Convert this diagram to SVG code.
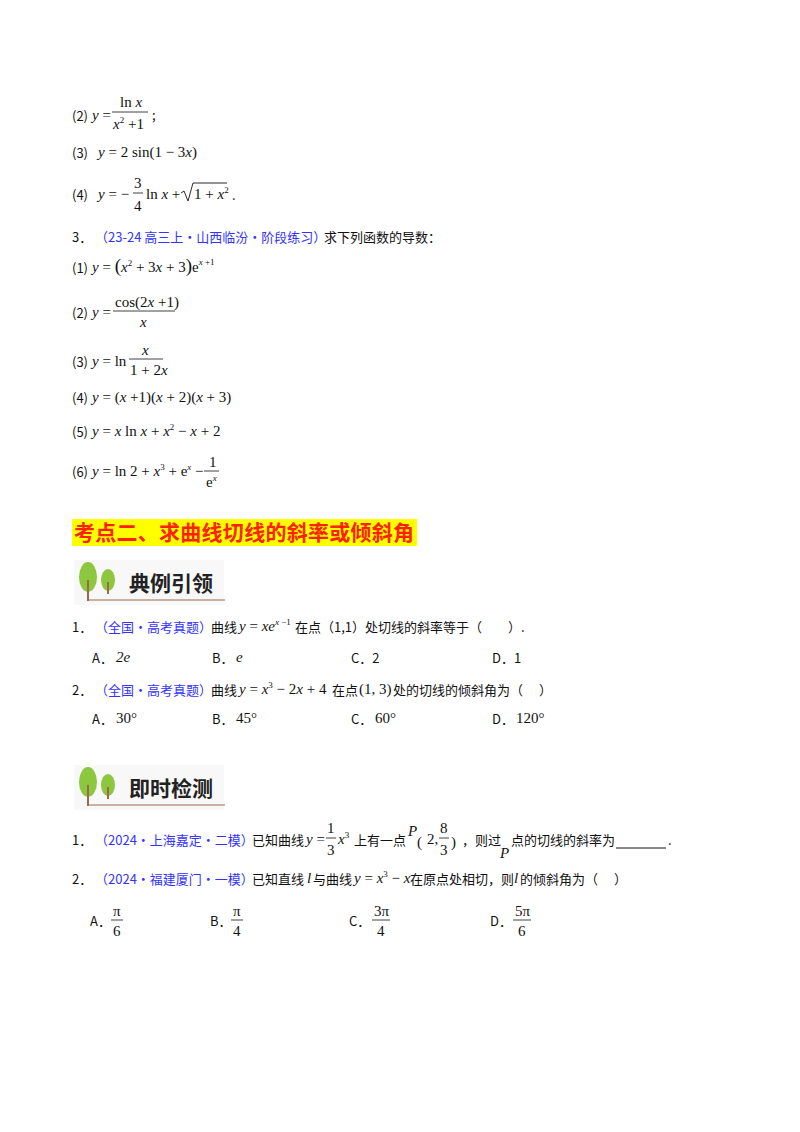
<svg xmlns="http://www.w3.org/2000/svg" width="800" height="1132" viewBox="0 0 800 1132">
<style>
.t{font-family:"Noto Sans CJK SC","Liberation Sans",sans-serif;font-size:13px;fill:#111}
.b{fill:#3333ff}
.m{font-family:"Liberation Serif",serif;font-size:15px;fill:#111}
.i{font-style:italic}
.s{font-size:9px}
.fl{stroke:#111;stroke-width:0.8}
.h{font-family:"Noto Sans CJK SC",sans-serif;font-size:21px;font-weight:bold;fill:#222}
.tr{fill:#8dc63f}
</style>
<rect width="800" height="1132" fill="#fff"/>
<g id="part1">
<text class="t" x="72" y="121">(2)</text>
<text class="m" x="92" y="120"><tspan class="i">y</tspan> =</text>
<text class="m" x="120" y="107">ln <tspan class="i">x</tspan></text>
<line class="fl" x1="112" y1="112" x2="148" y2="112"/>
<text class="m" x="113" y="129"><tspan class="i">x</tspan><tspan class="s" dy="-6">2</tspan><tspan dy="6"> +1</tspan></text>
<text class="t" x="152" y="120">;</text>

<text class="t" x="72" y="158">(3)</text>
<text class="m" x="98" y="157"><tspan class="i">y</tspan> = 2 sin(1 − 3<tspan class="i">x</tspan>)</text>

<text class="t" x="72" y="200">(4)</text>
<text class="m" x="98" y="199"><tspan class="i">y</tspan> = −</text>
<text class="m" x="134" y="188">3</text>
<line class="fl" x1="133" y1="193" x2="143" y2="193"/>
<text class="m" x="134" y="211">4</text>
<text class="m" x="146" y="199">ln <tspan class="i">x</tspan> +</text>
<path d="M181 193 l3 -2 l4 10 l5 -18 h34" fill="none" stroke="#111" stroke-width="0.9"/>
<text class="m" x="194" y="199">1 + <tspan class="i">x</tspan><tspan class="s" dy="-6">2</tspan></text>
<text class="t" x="232" y="200">.</text>

<text class="t" x="72" y="242">3．</text>
<text class="t b" x="95" y="242">（23-24 高三上·山西临汾·阶段练习）</text>
<text class="t" x="324" y="242">求下列函数的导数：</text>

<text class="t" x="72" y="273">(1)</text>
<text class="m" x="92" y="272"><tspan class="i">y</tspan> = <tspan font-size="19">(</tspan><tspan class="i">x</tspan><tspan class="s" dy="-6">2</tspan><tspan dy="6"> + 3</tspan><tspan class="i">x</tspan> + 3<tspan font-size="19">)</tspan>e<tspan class="s i" dy="-7">x</tspan><tspan class="s"> +1</tspan></text>

<text class="t" x="72" y="318">(2)</text>
<text class="m" x="92" y="317"><tspan class="i">y</tspan> =</text>
<text class="m" x="115" y="307">cos(2<tspan class="i">x</tspan> +1)</text>
<line class="fl" x1="113" y1="311" x2="175" y2="311"/>
<text class="m" x="140" y="327" font-style="italic">x</text>

<text class="t" x="72" y="367">(3)</text>
<text class="m" x="92" y="366"><tspan class="i">y</tspan> = ln</text>
<text class="m i" x="142" y="355">x</text>
<line class="fl" x1="129" y1="359" x2="163" y2="359"/>
<text class="m" x="130" y="375">1 + 2<tspan class="i">x</tspan></text>

<text class="t" x="72" y="403">(4)</text>
<text class="m" x="92" y="402"><tspan class="i">y</tspan> = (<tspan class="i">x</tspan> +1)(<tspan class="i">x</tspan> + 2)(<tspan class="i">x</tspan> + 3)</text>

<text class="t" x="72" y="437">(5)</text>
<text class="m" x="92" y="436"><tspan class="i">y</tspan> = <tspan class="i">x</tspan> ln <tspan class="i">x</tspan> + <tspan class="i">x</tspan><tspan class="s" dy="-6">2</tspan><tspan dy="6"> − </tspan><tspan class="i">x</tspan> + 2</text>

<text class="t" x="72" y="477">(6)</text>
<text class="m" x="92" y="476"><tspan class="i">y</tspan> = ln 2 + <tspan class="i">x</tspan><tspan class="s" dy="-6">3</tspan><tspan dy="6"> + e</tspan><tspan class="s i" dy="-6">x</tspan><tspan dy="6"> −</tspan></text>
<text class="m" x="209" y="467">1</text>
<line class="fl" x1="204" y1="471" x2="219" y2="471"/>
<text class="m" x="206" y="487">e<tspan class="s i" dy="-6">x</tspan></text>
</g>

<g id="heading">
<rect x="72" y="519" width="345" height="27" fill="#ffff00"/>
<text x="74" y="540" font-family="Noto Sans CJK SC,sans-serif" font-size="21" font-weight="bold" fill="#ff2200" textLength="340">考点二、求曲线切线的斜率或倾斜角</text>
</g>

<g id="icon1">
<rect x="74" y="560" width="150" height="45" fill="#f4f4f4" opacity="0.6"/>
<ellipse class="tr" cx="88" cy="577" rx="9" ry="15"/>
<ellipse class="tr" cx="108" cy="580" rx="7" ry="11"/>
<line x1="88" y1="580" x2="88" y2="601" stroke="#9b6a4a" stroke-width="2"/>
<line x1="108" y1="582" x2="108" y2="594" stroke="#9b6a4a" stroke-width="2"/>
<line x1="88" y1="600" x2="225" y2="600" stroke="#9b6a4a" stroke-width="1"/>
<text class="h" x="129" y="591">典例引领</text>
</g>

<g id="ex">
<text class="t" x="72" y="632">1．</text>
<text class="t b" x="95" y="632">（全国·高考真题）</text>
<text class="t" x="211" y="632">曲线</text>
<text class="m" x="239" y="631"><tspan class="i">y</tspan> = <tspan class="i">xe</tspan><tspan class="s" dy="-6"><tspan class="i">x</tspan> −1</tspan></text>
<text class="t" x="295" y="632">在点（1,1）处切线的斜率等于（　　）.</text>
<text class="t" x="92" y="663">A．</text><text class="m i" x="116" y="662">2e</text>
<text class="t" x="212" y="663">B．</text><text class="m i" x="236" y="662">e</text>
<text class="t" x="351" y="663">C．2</text>
<text class="t" x="492" y="663">D．1</text>

<text class="t" x="72" y="695">2．</text>
<text class="t b" x="95" y="695">（全国·高考真题）</text>
<text class="t" x="211" y="695">曲线</text>
<text class="m" x="239" y="694"><tspan class="i">y</tspan> = <tspan class="i">x</tspan><tspan class="s" dy="-6">3</tspan><tspan dy="6"> − 2</tspan><tspan class="i">x</tspan> + 4</text>
<text class="t" x="332" y="695">在点</text>
<text class="m" x="359" y="694">(1, 3)</text>
<text class="t" x="393" y="695">处的切线的倾斜角为（　 ）</text>
<text class="t" x="92" y="724">A．</text><text class="m" x="116" y="723">30°</text>
<text class="t" x="212" y="724">B．</text><text class="m" x="236" y="723">45°</text>
<text class="t" x="351" y="724">C．</text><text class="m" x="375" y="723">60°</text>
<text class="t" x="492" y="724">D．</text><text class="m" x="516" y="723">120°</text>
</g>

<g id="icon2">
<rect x="74" y="765" width="150" height="45" fill="#f4f4f4" opacity="0.6"/>
<ellipse class="tr" cx="88" cy="782" rx="9" ry="15"/>
<ellipse class="tr" cx="108" cy="785" rx="7" ry="11"/>
<line x1="88" y1="785" x2="88" y2="806" stroke="#9b6a4a" stroke-width="2"/>
<line x1="108" y1="787" x2="108" y2="799" stroke="#9b6a4a" stroke-width="2"/>
<line x1="88" y1="805" x2="225" y2="805" stroke="#9b6a4a" stroke-width="1"/>
<text class="h" x="129" y="796">即时检测</text>
</g>

<g id="check">
<text class="t" x="72" y="845">1．</text>
<text class="t b" x="95" y="845">（2024·上海嘉定·二模）</text>
<text class="t" x="252" y="845">已知曲线</text>
<text class="m" x="306" y="844"><tspan class="i">y</tspan> =</text>
<text class="m" x="327" y="833">1</text>
<line class="fl" x1="326" y1="838" x2="336" y2="838"/>
<text class="m" x="327" y="855">3</text>
<text class="m" x="338" y="844"><tspan class="i">x</tspan><tspan class="s" dy="-6">3</tspan></text>
<text class="t" x="354" y="845">上有一点</text>
<text class="m i" x="408" y="836">P</text>
<text class="m" x="417" y="847" font-size="28">(</text>
<text class="m" x="427" y="844">2,</text>
<text class="m" x="440" y="833">8</text>
<line class="fl" x1="439" y1="838" x2="449" y2="838"/>
<text class="m" x="440" y="855">3</text>
<text class="m" x="451" y="847" font-size="28">)</text>
<text class="t" x="462" y="845">，则过</text>
<text class="m i" x="500" y="858">P</text>
<text class="t" x="511" y="845">点的切线的斜率为</text>
<line x1="616" y1="848" x2="666" y2="848" stroke="#111" stroke-width="1"/>
<text class="t" x="668" y="845">.</text>

<text class="t" x="72" y="884">2．</text>
<text class="t b" x="95" y="884">（2024·福建厦门·一模）</text>
<text class="t" x="252" y="884">已知直线</text>
<text class="m i" x="307" y="883">l</text>
<text class="t" x="313" y="884">与曲线</text>
<text class="m" x="354" y="883"><tspan class="i">y</tspan> = <tspan class="i">x</tspan><tspan class="s" dy="-6">3</tspan><tspan dy="6"> − </tspan><tspan class="i">x</tspan></text>
<text class="t" x="410" y="884">在原点处相切，则</text>
<text class="m i" x="514" y="883">l</text>
<text class="t" x="520" y="884">的倾斜角为（　 ）</text>

<text class="t" x="90" y="926">A．</text>
<text class="m" x="113" y="916">π</text><line class="fl" x1="111" y1="920" x2="123" y2="920"/><text class="m" x="113" y="936">6</text>
<text class="t" x="210" y="926">B．</text>
<text class="m" x="233" y="916">π</text><line class="fl" x1="231" y1="920" x2="243" y2="920"/><text class="m" x="233" y="936">4</text>
<text class="t" x="349" y="926">C．</text>
<text class="m" x="374" y="916">3π</text><line class="fl" x1="372" y1="920" x2="390" y2="920"/><text class="m" x="377" y="936">4</text>
<text class="t" x="490" y="926">D．</text>
<text class="m" x="515" y="916">5π</text><line class="fl" x1="513" y1="920" x2="531" y2="920"/><text class="m" x="518" y="936">6</text>
</g>
</svg>
